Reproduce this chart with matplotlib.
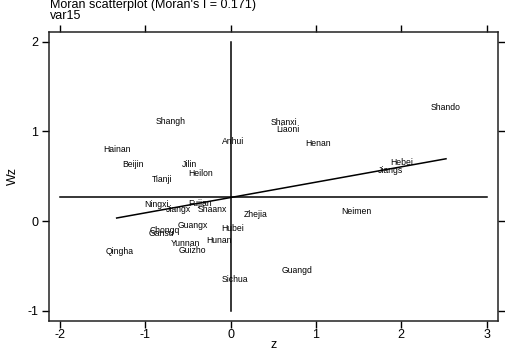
import matplotlib
matplotlib.use('Agg')
import matplotlib.pyplot as plt
import numpy as np

# province labels, standardized value z and spatial lag Wz
names = ['Shangh', 'Anhui', 'Hainan', 'Beijin', 'Jilin', 'Heilon', 'Tianji',
         'Ningxi', 'Fujian', 'Jiangx', 'Shaanx', 'Zhejia', 'Guangx', 'Hubei',
         'Chongq', 'Gansu', 'Yunnan', 'Hunan', 'Qingha', 'Guizho', 'Sichua',
         'Shando', 'Shanxi', 'Liaoni', 'Henan', 'Hebei', 'Jiangs', 'Neimen',
         'Guangd']
z = [-0.700, 0.030, -1.337, -1.142, -0.489, -0.348, -0.802,
     -0.868, -0.360, -0.614, -0.216, 0.296, -0.445, 0.019,
     -0.778, -0.809, -0.536, -0.141, -1.306, -0.450, 0.050,
     2.524, 0.628, 0.668, 1.027, 2.004, 1.868, 1.477,
     0.774]
wz = [1.107, 0.881, 0.799, 0.635, 0.635, 0.527, 0.465,
      0.186, 0.197, 0.130, 0.123, 0.078, -0.052, -0.081,
      -0.108, -0.137, -0.249, -0.219, -0.342, -0.334, -0.647,
      1.260, 1.099, 1.025, 0.862, 0.652, 0.561, 0.104,
      -0.546]

MORAN_I = 0.171
INTERCEPT = 0.262
MEAN_WZ = 0.268
x_ticks = [-2, -1, 0, 1, 2, 3]
y_ticks = [-1, 0, 1, 2]

plt.rcParams['font.family'] = ['Liberation Sans', 'DejaVu Sans']
plt.rcParams['axes.unicode_minus'] = False

fig = plt.figure(figsize=(5.05, 3.49), dpi=100, facecolor='white')
ax = fig.add_axes([0.0976, 0.0811, 0.8891, 0.8281])

for n, x, y in zip(names, z, wz):
    ax.text(x, y, n, fontsize=6.2, ha='center', va='center', color='black')

# reference lines
ax.plot([x_ticks[0], x_ticks[-1]], [MEAN_WZ, MEAN_WZ], color='black', lw=1.1)
ax.plot([0, 0], [y_ticks[0], y_ticks[-1]], color='black', lw=1.1)
xs = np.array([min(z), max(z)])
ax.plot(xs, INTERCEPT + MORAN_I * xs, color='black', lw=1.1)

ax.set_xlim(-2.127, 3.137)
ax.set_ylim(-1.111, 2.110)
ax.set_xticks(x_ticks)
ax.set_yticks(y_ticks)
ax.tick_params(direction='out', length=4.8, width=1.0, labelsize=9,
               top=True, right=True, labeltop=False, labelright=False,
               pad=3)
ax.tick_params(axis='x', pad=1.5)
for s in ax.spines.values():
    s.set_linewidth(1.1)
    s.set_color('#222222')

ax.set_xlabel('z', fontsize=9, labelpad=-2)
ax.set_ylabel('Wz', fontsize=9, labelpad=6)

fig.text(0.099, 0.985, "Moran scatterplot (Moran's I = 0.171)", fontsize=9,
         ha='left', va='center')
fig.text(0.099, 0.953, 'var15', fontsize=9, ha='left', va='center')

fig.savefig('out.png', dpi=100, facecolor='white')
